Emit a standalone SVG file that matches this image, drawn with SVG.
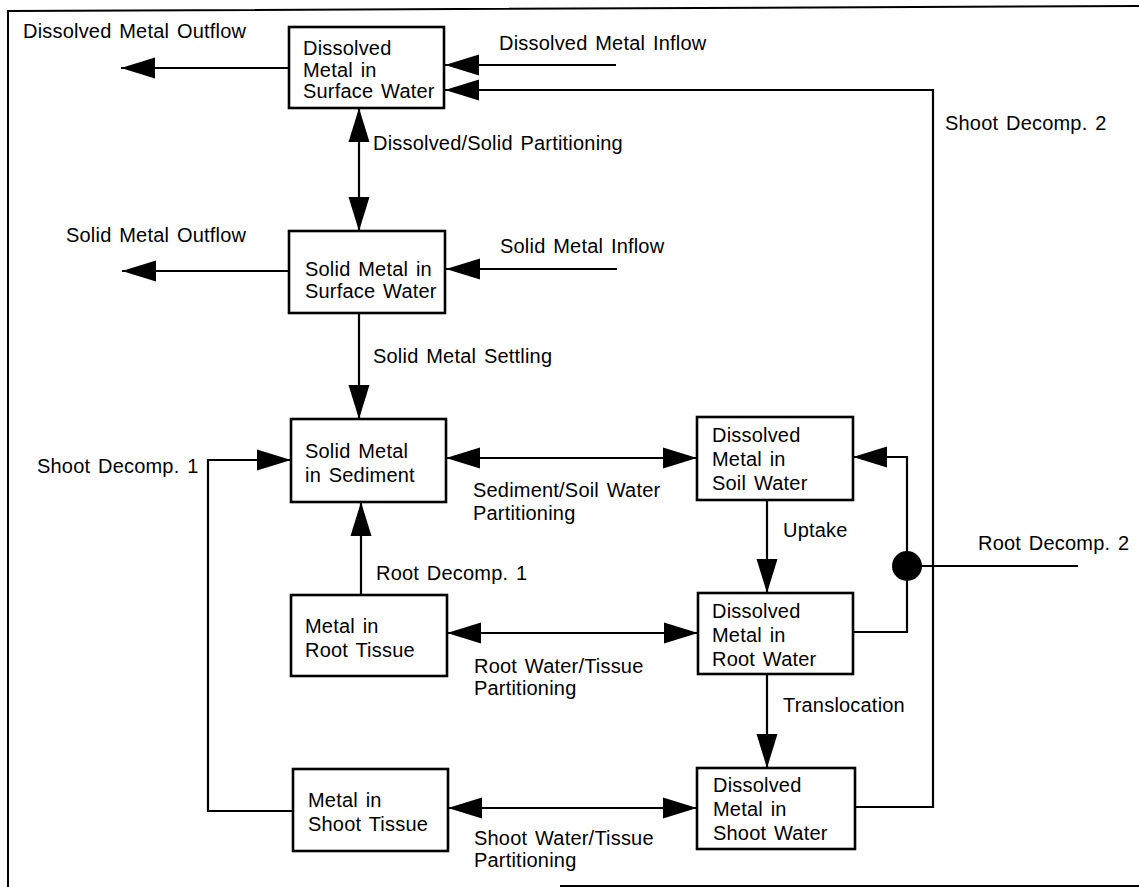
<svg xmlns="http://www.w3.org/2000/svg" width="1139" height="887" viewBox="0 0 1139 887">
  <style>
    .box { fill: #fff; stroke: #000; stroke-width: 2.6; }
    .t { font-family: "Liberation Sans", Arial, sans-serif; font-size: 20px; letter-spacing: 0.2px; word-spacing: 2px; fill: #000; }
    .c { fill: none; stroke: #000; stroke-width: 2.2; }
    .frame { fill: none; stroke: #000; stroke-width: 2; }
  </style>
  <defs>
    <marker id="ah" viewBox="0 -12 36 24" refX="34" refY="0" markerWidth="36" markerHeight="24" markerUnits="userSpaceOnUse" orient="auto-start-reverse">
      <path d="M34 0 L0 -10.5 L0 10.5 Z" fill="#000"/>
    </marker>
  </defs>
  <rect width="1139" height="887" fill="#fff"/>

  <!-- outer frame -->
  <g id="frame">
    <polyline class="frame" points="8,887 8,11 1139,6"/>
    <line class="frame" x1="560" y1="886" x2="1139" y2="886"/>
  </g>

  <!-- connectors -->
  <g id="connectors">
    <line class="c" x1="289" y1="68" x2="121" y2="68" marker-end="url(#ah)"/>
    <line class="c" x1="616" y1="65" x2="445" y2="65" marker-end="url(#ah)"/>
    <path class="c" d="M855 807 H933 V90 H445" marker-end="url(#ah)"/>
    <line class="c" x1="359" y1="108" x2="359" y2="231" marker-start="url(#ah)" marker-end="url(#ah)"/>
    <line class="c" x1="289" y1="271" x2="122" y2="271" marker-end="url(#ah)"/>
    <line class="c" x1="617" y1="269" x2="446" y2="269" marker-end="url(#ah)"/>
    <line class="c" x1="359" y1="313" x2="359" y2="419" marker-end="url(#ah)"/>
    <path class="c" d="M293 811 H208 V460 H291" marker-end="url(#ah)"/>
    <line class="c" x1="446" y1="458" x2="697" y2="458" marker-start="url(#ah)" marker-end="url(#ah)"/>
    <line class="c" x1="361" y1="595" x2="361" y2="502" marker-end="url(#ah)"/>
    <line class="c" x1="447" y1="633" x2="698" y2="633" marker-start="url(#ah)" marker-end="url(#ah)"/>
    <line class="c" x1="767" y1="500" x2="767" y2="593" marker-end="url(#ah)"/>
    <path class="c" d="M853 632 H907 V457 H853" marker-end="url(#ah)"/>
    <circle cx="907" cy="566" r="15" fill="#000"/>
    <line class="c" x1="907" y1="566" x2="1078" y2="566"/>
    <line class="c" x1="767" y1="674" x2="767" y2="768" marker-end="url(#ah)"/>
    <line class="c" x1="448" y1="808" x2="697" y2="808" marker-start="url(#ah)" marker-end="url(#ah)"/>
  </g>

  <!-- flow labels -->
  <g id="labels">
    <text class="t" x="23" y="38">Dissolved Metal Outflow</text>
    <text class="t" x="499" y="50">Dissolved Metal Inflow</text>
    <text class="t" x="945" y="130">Shoot Decomp. 2</text>
    <text class="t" x="373" y="150">Dissolved/Solid Partitioning</text>
    <text class="t" x="66" y="242">Solid Metal Outflow</text>
    <text class="t" x="500" y="253">Solid Metal Inflow</text>
    <text class="t" x="373" y="363">Solid Metal Settling</text>
    <text class="t" x="473" y="497">Sediment/Soil Water</text>
    <text class="t" x="473" y="520">Partitioning</text>
    <text class="t" x="37" y="473">Shoot Decomp. 1</text>
    <text class="t" x="376" y="580">Root Decomp. 1</text>
    <text class="t" x="783" y="537">Uptake</text>
    <text class="t" x="978" y="550">Root Decomp. 2</text>
    <text class="t" x="474" y="673">Root Water/Tissue</text>
    <text class="t" x="474" y="695">Partitioning</text>
    <text class="t" x="783" y="712">Translocation</text>
    <text class="t" x="474" y="845">Shoot Water/Tissue</text>
    <text class="t" x="474" y="867">Partitioning</text>
  </g>

  <!-- compartments -->
  <g id="dissolved-surface-water">
    <rect class="box" x="289" y="27" width="155" height="81"/>
    <text class="t" x="303" y="55">Dissolved</text>
    <text class="t" x="303" y="77">Metal in</text>
    <text class="t" x="303" y="98">Surface Water</text>
  </g>
  <g id="solid-surface-water">
    <rect class="box" x="289" y="231" width="156" height="82"/>
    <text class="t" x="305" y="276">Solid Metal in</text>
    <text class="t" x="305" y="298">Surface Water</text>
  </g>
  <g id="solid-sediment">
    <rect class="box" x="291" y="419" width="155" height="83"/>
    <text class="t" x="305" y="458">Solid Metal</text>
    <text class="t" x="305" y="482">in Sediment</text>
  </g>
  <g id="dissolved-soil-water">
    <rect class="box" x="697" y="417" width="156" height="83"/>
    <text class="t" x="712" y="442">Dissolved</text>
    <text class="t" x="712" y="466">Metal in</text>
    <text class="t" x="712" y="490">Soil Water</text>
  </g>
  <g id="root-tissue">
    <rect class="box" x="291" y="595" width="156" height="81"/>
    <text class="t" x="305" y="633">Metal in</text>
    <text class="t" x="305" y="657">Root Tissue</text>
  </g>
  <g id="dissolved-root-water">
    <rect class="box" x="698" y="593" width="155" height="81"/>
    <text class="t" x="712" y="618">Dissolved</text>
    <text class="t" x="712" y="642">Metal in</text>
    <text class="t" x="712" y="666">Root Water</text>
  </g>
  <g id="shoot-tissue">
    <rect class="box" x="293" y="769" width="155" height="82"/>
    <text class="t" x="308" y="807">Metal in</text>
    <text class="t" x="308" y="831">Shoot Tissue</text>
  </g>
  <g id="dissolved-shoot-water">
    <rect class="box" x="697" y="768" width="158" height="81"/>
    <text class="t" x="713" y="792">Dissolved</text>
    <text class="t" x="713" y="816">Metal in</text>
    <text class="t" x="713" y="840">Shoot Water</text>
  </g>
</svg>
